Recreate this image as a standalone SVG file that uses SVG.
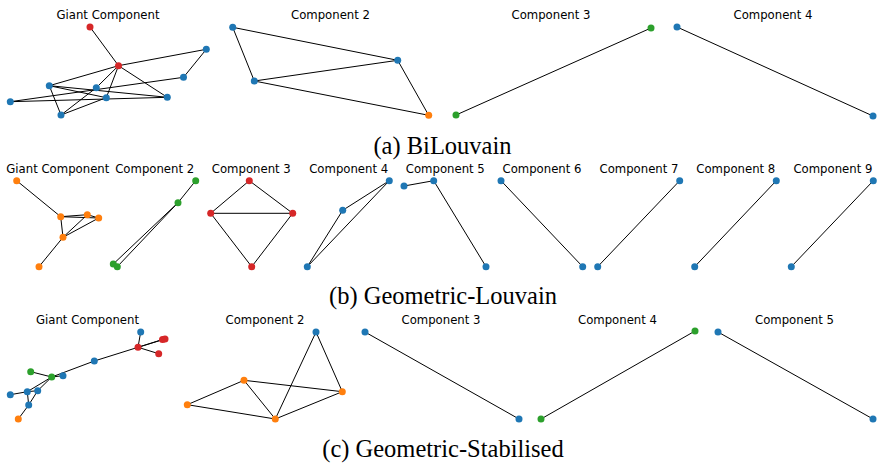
<svg xmlns="http://www.w3.org/2000/svg" width="877" height="464" viewBox="0 0 877 464">
<style>
.t{font-family:"DejaVu Sans",sans-serif;font-size:11.7px;fill:#000;text-anchor:middle}
.cap{font-family:"Liberation Serif","Times New Roman",serif;font-size:24.5px;fill:#000;text-anchor:middle}
.e line{stroke:#000;stroke-width:1}
.b{fill:#1f77b4}.o{fill:#ff7f0e}.g{fill:#2ca02c}.r{fill:#d62728}
</style>
<rect width="877" height="464" fill="#fff"/>
<g id="titles">
<text class="t" x="108" y="18.5">Giant Component</text>
<text class="t" x="330.5" y="18.5">Component 2</text>
<text class="t" x="551" y="18.5">Component 3</text>
<text class="t" x="773" y="18.5">Component 4</text>
<text class="t" x="57.8" y="172.5">Giant Component</text>
<text class="t" x="154.7" y="172.5">Component 2</text>
<text class="t" x="251.3" y="172.5">Component 3</text>
<text class="t" x="348.7" y="172.5">Component 4</text>
<text class="t" x="445.3" y="172.5">Component 5</text>
<text class="t" x="542" y="172.5">Component 6</text>
<text class="t" x="639" y="172.5">Component 7</text>
<text class="t" x="735.8" y="172.5">Component 8</text>
<text class="t" x="832.9" y="172.5">Component 9</text>
<text class="t" x="87.5" y="323.5">Giant Component</text>
<text class="t" x="265" y="323.5">Component 2</text>
<text class="t" x="441" y="323.5">Component 3</text>
<text class="t" x="617.5" y="323.5">Component 4</text>
<text class="t" x="794.5" y="323.5">Component 5</text>
</g>
<g id="captions">
<text class="cap" x="442.5" y="154">(a) BiLouvain</text>
<text class="cap" x="443" y="304">(b) Geometric-Louvain</text>
<text class="cap" x="443" y="457">(c) Geometric-Stabilised</text>
</g>
<g id="connectors" class="e">
<!-- (a) giant -->
<line x1="90" y1="27" x2="118.5" y2="65.7"/>
<line x1="118.5" y1="65.7" x2="206.3" y2="49.3"/>
<line x1="118.5" y1="65.7" x2="49.3" y2="85.7"/>
<line x1="118.5" y1="65.7" x2="96.3" y2="87.7"/>
<line x1="118.5" y1="65.7" x2="106.3" y2="97.7"/>
<line x1="118.5" y1="65.7" x2="167.3" y2="97.3"/>
<line x1="206.3" y1="49.3" x2="183.5" y2="77.3"/>
<line x1="10.3" y1="101.7" x2="183.5" y2="77.3"/>
<line x1="10.3" y1="101.7" x2="167.3" y2="97.3"/>
<line x1="49.3" y1="85.7" x2="167.3" y2="97.3"/>
<line x1="49.3" y1="85.7" x2="106.3" y2="97.7"/>
<line x1="49.3" y1="85.7" x2="61" y2="115"/>
<line x1="61" y1="115" x2="96.3" y2="87.7"/>
<line x1="61" y1="115" x2="106.3" y2="97.7"/>
<!-- (a) comp 2 -->
<line x1="232.7" y1="27.3" x2="397.7" y2="60.3"/>
<line x1="232.7" y1="27.3" x2="254.3" y2="81"/>
<line x1="254.3" y1="81" x2="397.7" y2="60.3"/>
<line x1="254.3" y1="81" x2="428.7" y2="115.3"/>
<line x1="397.7" y1="60.3" x2="428.7" y2="115.3"/>
<!-- (a) comp 3,4 -->
<line x1="651" y1="28" x2="456" y2="115"/>
<line x1="677" y1="27" x2="873" y2="116"/>
<!-- (b) giant -->
<line x1="16.7" y1="180.7" x2="60.7" y2="216.7"/>
<line x1="60.7" y1="216.7" x2="87.3" y2="214.7"/>
<line x1="60.7" y1="216.7" x2="98.7" y2="218"/>
<line x1="87.3" y1="214.7" x2="98.7" y2="218"/>
<line x1="60.7" y1="216.7" x2="63" y2="237.3"/>
<line x1="63" y1="237.3" x2="87.3" y2="214.7"/>
<line x1="63" y1="237.3" x2="98.7" y2="218"/>
<line x1="63" y1="237.3" x2="39" y2="266.7"/>
<!-- (b) comp 2 -->
<line x1="195.7" y1="180.7" x2="178" y2="202.7"/>
<line x1="178" y1="202.7" x2="113.3" y2="264"/>
<line x1="178" y1="202.7" x2="117.3" y2="266.7"/>
<!-- (b) comp 3 -->
<line x1="249.3" y1="180.7" x2="210.7" y2="213.3"/>
<line x1="249.3" y1="180.7" x2="292.7" y2="213.3"/>
<line x1="210.7" y1="213.3" x2="292.7" y2="213.3"/>
<line x1="210.7" y1="213.3" x2="251.7" y2="266.7"/>
<line x1="292.7" y1="213.3" x2="251.7" y2="266.7"/>
<!-- (b) comp 4 -->
<line x1="389.3" y1="180.7" x2="342.7" y2="210.3"/>
<line x1="342.7" y1="210.3" x2="307.3" y2="266.7"/>
<line x1="389.3" y1="180.7" x2="307.3" y2="266.7"/>
<!-- (b) comp 5-9 -->
<line x1="404" y1="186" x2="433.7" y2="180.7"/>
<line x1="433.7" y1="180.7" x2="486" y2="266.7"/>
<line x1="501" y1="180.7" x2="582.7" y2="266.7"/>
<line x1="679.7" y1="180.7" x2="597.7" y2="266.7"/>
<line x1="776.3" y1="180.7" x2="694.7" y2="266.7"/>
<line x1="873.3" y1="180.7" x2="791.3" y2="266.7"/>
<!-- (c) giant -->
<line x1="140.7" y1="332" x2="138" y2="347.3"/>
<line x1="138" y1="347.3" x2="162.5" y2="339.5"/>
<line x1="138" y1="347.3" x2="165" y2="339"/>
<line x1="138" y1="347.3" x2="158.7" y2="353.7"/>
<line x1="138" y1="347.3" x2="94.3" y2="361"/>
<line x1="94.3" y1="361" x2="51.7" y2="377"/>
<line x1="51.7" y1="377" x2="63" y2="375.7"/>
<line x1="30.7" y1="371.7" x2="51.7" y2="377"/>
<line x1="51.7" y1="377" x2="27.3" y2="391.7"/>
<line x1="51.7" y1="377" x2="37.7" y2="390.7"/>
<line x1="10.3" y1="394.7" x2="27.3" y2="391.7"/>
<line x1="27.3" y1="391.7" x2="37.7" y2="390.7"/>
<line x1="27.3" y1="391.7" x2="28.7" y2="405"/>
<line x1="37.7" y1="390.7" x2="28.7" y2="405"/>
<line x1="28.7" y1="405" x2="18.3" y2="419"/>
<!-- (c) comp 2 -->
<line x1="316" y1="332" x2="275.3" y2="419"/>
<line x1="316" y1="332" x2="342.3" y2="391.7"/>
<line x1="244" y1="380.3" x2="342.3" y2="391.7"/>
<line x1="244" y1="380.3" x2="187.3" y2="404.7"/>
<line x1="244" y1="380.3" x2="275.3" y2="419"/>
<line x1="187.3" y1="404.7" x2="275.3" y2="419"/>
<line x1="275.3" y1="419" x2="342.3" y2="391.7"/>
<!-- (c) comp 3-5 -->
<line x1="365" y1="332" x2="519" y2="419"/>
<line x1="695" y1="331" x2="541" y2="419"/>
<line x1="718" y1="332" x2="873" y2="419"/>
</g>
<g id="nodes">
<!-- (a) giant -->
<g id="a1-n1"><circle class="r" cx="90" cy="27" r="3.5"/></g>
<g id="a1-n2"><circle class="r" cx="118.5" cy="65.7" r="3.5"/></g>
<g id="a1-n3"><circle class="b" cx="206.3" cy="49.3" r="3.5"/></g>
<g id="a1-n4"><circle class="b" cx="183.5" cy="77.3" r="3.5"/></g>
<g id="a1-n5"><circle class="b" cx="49.3" cy="85.7" r="3.5"/></g>
<g id="a1-n6"><circle class="b" cx="96.3" cy="87.7" r="3.5"/></g>
<g id="a1-n7"><circle class="b" cx="106.3" cy="97.7" r="3.5"/></g>
<g id="a1-n8"><circle class="b" cx="167.3" cy="97.3" r="3.5"/></g>
<g id="a1-n9"><circle class="b" cx="10.3" cy="101.7" r="3.5"/></g>
<g id="a1-n10"><circle class="b" cx="61" cy="115" r="3.5"/></g>
<!-- (a) comp 2 -->
<g id="a2-n1"><circle class="b" cx="232.7" cy="27.3" r="3.5"/></g>
<g id="a2-n2"><circle class="b" cx="254.3" cy="81" r="3.5"/></g>
<g id="a2-n3"><circle class="b" cx="397.7" cy="60.3" r="3.5"/></g>
<g id="a2-n4"><circle class="o" cx="428.7" cy="115.3" r="3.5"/></g>
<g id="a3-n1"><circle class="g" cx="651" cy="28" r="3.5"/></g>
<g id="a3-n2"><circle class="g" cx="456" cy="115" r="3.5"/></g>
<g id="a4-n1"><circle class="b" cx="677" cy="27" r="3.5"/></g>
<g id="a4-n2"><circle class="b" cx="873" cy="116" r="3.5"/></g>
<!-- (b) giant -->
<g id="b1-n1"><circle class="o" cx="16.7" cy="180.7" r="3.5"/></g>
<g id="b1-n2"><circle class="o" cx="60.7" cy="216.7" r="3.5"/></g>
<g id="b1-n3"><circle class="o" cx="87.3" cy="214.7" r="3.5"/></g>
<g id="b1-n4"><circle class="o" cx="98.7" cy="218" r="3.5"/></g>
<g id="b1-n5"><circle class="o" cx="63" cy="237.3" r="3.5"/></g>
<g id="b1-n6"><circle class="o" cx="39" cy="266.7" r="3.5"/></g>
<g id="b2-n1"><circle class="g" cx="195.7" cy="180.7" r="3.5"/></g>
<g id="b2-n2"><circle class="g" cx="178" cy="202.7" r="3.5"/></g>
<g id="b2-n3"><circle class="g" cx="113.3" cy="264" r="3.5"/></g>
<g id="b2-n4"><circle class="g" cx="117.3" cy="266.7" r="3.5"/></g>
<g id="b3-n1"><circle class="r" cx="249.3" cy="180.7" r="3.5"/></g>
<g id="b3-n2"><circle class="r" cx="210.7" cy="213.3" r="3.5"/></g>
<g id="b3-n3"><circle class="r" cx="292.7" cy="213.3" r="3.5"/></g>
<g id="b3-n4"><circle class="r" cx="251.7" cy="266.7" r="3.5"/></g>
<g id="b4-n1"><circle class="b" cx="389.3" cy="180.7" r="3.5"/></g>
<g id="b4-n2"><circle class="b" cx="342.7" cy="210.3" r="3.5"/></g>
<g id="b4-n3"><circle class="b" cx="307.3" cy="266.7" r="3.5"/></g>
<g id="b5-n1"><circle class="b" cx="404" cy="186" r="3.5"/></g>
<g id="b5-n2"><circle class="b" cx="433.7" cy="180.7" r="3.5"/></g>
<g id="b5-n3"><circle class="b" cx="486" cy="266.7" r="3.5"/></g>
<g id="b6-n1"><circle class="b" cx="501" cy="180.7" r="3.5"/></g>
<g id="b6-n2"><circle class="b" cx="582.7" cy="266.7" r="3.5"/></g>
<g id="b7-n1"><circle class="b" cx="679.7" cy="180.7" r="3.5"/></g>
<g id="b7-n2"><circle class="b" cx="597.7" cy="266.7" r="3.5"/></g>
<g id="b8-n1"><circle class="b" cx="776.3" cy="180.7" r="3.5"/></g>
<g id="b8-n2"><circle class="b" cx="694.7" cy="266.7" r="3.5"/></g>
<g id="b9-n1"><circle class="b" cx="873.3" cy="180.7" r="3.5"/></g>
<g id="b9-n2"><circle class="b" cx="791.3" cy="266.7" r="3.5"/></g>
<!-- (c) giant -->
<g id="c1-n1"><circle class="b" cx="140.7" cy="332" r="3.5"/></g>
<g id="c1-n2"><circle class="r" cx="138" cy="347.3" r="3.5"/></g>
<g id="c1-n3"><circle class="r" cx="162.5" cy="339.5" r="3.5"/></g>
<g id="c1-n4"><circle class="r" cx="165" cy="339" r="3.5"/></g>
<g id="c1-n5"><circle class="r" cx="158.7" cy="353.7" r="3.5"/></g>
<g id="c1-n6"><circle class="b" cx="94.3" cy="361" r="3.5"/></g>
<g id="c1-n7"><circle class="b" cx="63" cy="375.7" r="3.5"/></g>
<g id="c1-n8"><circle class="g" cx="51.7" cy="377" r="3.5"/></g>
<g id="c1-n9"><circle class="g" cx="30.7" cy="371.7" r="3.5"/></g>
<g id="c1-n10"><circle class="b" cx="27.3" cy="391.7" r="3.5"/></g>
<g id="c1-n11"><circle class="b" cx="37.7" cy="390.7" r="3.5"/></g>
<g id="c1-n12"><circle class="b" cx="10.3" cy="394.7" r="3.5"/></g>
<g id="c1-n13"><circle class="b" cx="28.7" cy="405" r="3.5"/></g>
<g id="c1-n14"><circle class="o" cx="18.3" cy="419" r="3.5"/></g>
<g id="c2-n1"><circle class="b" cx="316" cy="332" r="3.5"/></g>
<g id="c2-n2"><circle class="o" cx="244" cy="380.3" r="3.5"/></g>
<g id="c2-n3"><circle class="o" cx="342.3" cy="391.7" r="3.5"/></g>
<g id="c2-n4"><circle class="o" cx="187.3" cy="404.7" r="3.5"/></g>
<g id="c2-n5"><circle class="o" cx="275.3" cy="419" r="3.5"/></g>
<g id="c3-n1"><circle class="b" cx="365" cy="332" r="3.5"/></g>
<g id="c3-n2"><circle class="b" cx="519" cy="419" r="3.5"/></g>
<g id="c4-n1"><circle class="g" cx="695" cy="331" r="3.5"/></g>
<g id="c4-n2"><circle class="g" cx="541" cy="419" r="3.5"/></g>
<g id="c5-n1"><circle class="b" cx="718" cy="332" r="3.5"/></g>
<g id="c5-n2"><circle class="b" cx="873" cy="419" r="3.5"/></g>
</g>
</svg>
